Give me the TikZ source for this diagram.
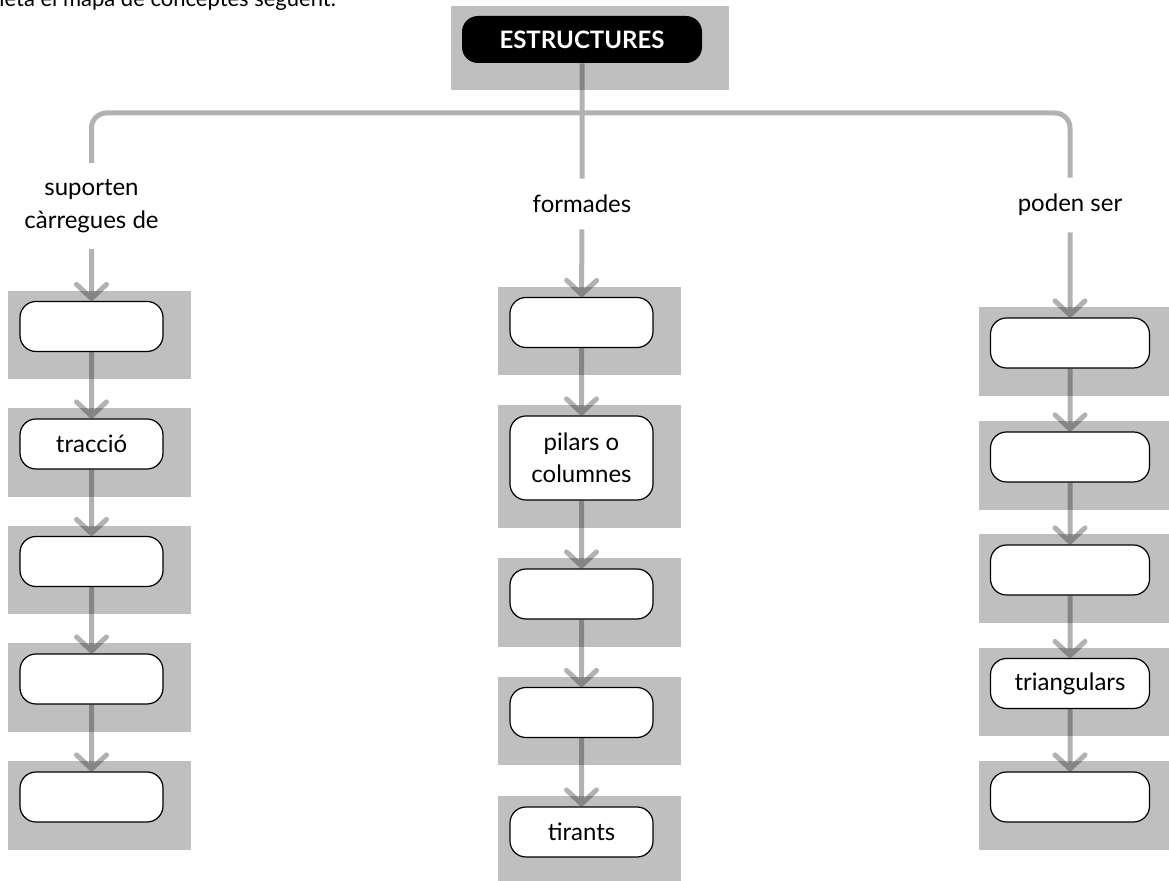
\documentclass[tikz,border=0pt]{standalone}
\usepackage{fontspec}
\setmainfont{Lato}
\usetikzlibrary{arrows.meta,backgrounds,positioning}

\tikzset{
  concept/.style={draw, fill=white, rounded corners=8pt, line width=0.6pt,
    minimum width=71.5pt, minimum height=25pt, align=center, inner sep=2pt,
    font=\fontsize{12}{16}\selectfont},
  root/.style={fill=black, text=white, rounded corners=8pt,
    minimum width=120pt, minimum height=23.5pt,
    font=\bfseries\fontsize{12}{14}\selectfont},
  linkword/.style={align=center, inner xsep=2pt, inner ysep=8pt,
    font=\fontsize{12}{16.5}\selectfont},
  branch/.style={draw=black, line width=2.5pt},
  flow/.style={branch, -{Straight Barb[length=7pt,width=15pt,round]}},
  shade/.style={fill=black!25}
}

\begin{document}
\begin{tikzpicture}[x=0.5pt,y=-0.5pt]
\useasboundingbox (0,0) rectangle (1169,881);
\clip (0,0) rectangle (1169,881);

\node[anchor=base east, font=\fontsize{11}{13}\selectfont] (task) at (343,7) {Completa el mapa de conceptes següent.};

\node[root] (root) at (582,39.5) {ESTRUCTURES};

% paraules d'enllac
\node[linkword] (sup) at (91.5,206) {suporten\\càrregues de};
\node[linkword] (form) at (582,204) {formades};
\node[linkword] (pod) at (1070,205) {poden ser};
\coordinate (bar) at (582,113);

% columna esquerra
\node[concept] (l1) at (91.5,326.5) {};
\node[concept] (l2) at (91.5,444) {tracció};
\node[concept] (l3) at (91.5,561.5) {};
\node[concept] (l4) at (91.5,679) {};
\node[concept] (l5) at (91.5,797) {};

% columna central
\node[concept] (m1) at (581.5,322.5) {};
\node[concept, minimum height=42pt] (m2) at (581.5,458) {pilars o\\columnes};
\node[concept] (m3) at (581.5,594) {};
\node[concept] (m4) at (581.5,712.5) {};
\node[concept] (m5) at (581.5,832) {tirants};

% columna dreta
\node[concept, minimum width=79.5pt] (r1) at (1070,343) {};
\node[concept, minimum width=79.5pt] (r2) at (1070,457) {};
\node[concept, minimum width=79.5pt] (r3) at (1070,570) {};
\node[concept, minimum width=79.5pt] (r4) at (1070,683.5) {triangulars};
\node[concept, minimum width=79.5pt] (r5) at (1070,797) {};

\begin{scope}[on background layer]
\foreach \n in {root,l1,l2,l3,l4,l5,m1,m2,m3,m4,m5,r1,r2,r3,r4,r5}
  \fill[shade] ([shift={(-11,-10)}]\n.north west) rectangle ([shift={(27,27)}]\n.south east);
\end{scope}

\begin{scope}[transparency group, opacity=.3]
\draw[branch, rounded corners=7.5pt] (sup.north) -- (sup.north |- bar) -- (pod.north |- bar) -- (pod.north);
\draw[branch] (root.south) -- (form.north);
\foreach \a/\b in {sup/l1,l1/l2,l2/l3,l3/l4,l4/l5,
                   form/m1,m1/m2,m2/m3,m3/m4,m4/m5,
                   pod/r1,r1/r2,r2/r3,r3/r4,r4/r5}
  \draw[flow] (\a) -- (\b);
\end{scope}
\end{tikzpicture}
\end{document}
